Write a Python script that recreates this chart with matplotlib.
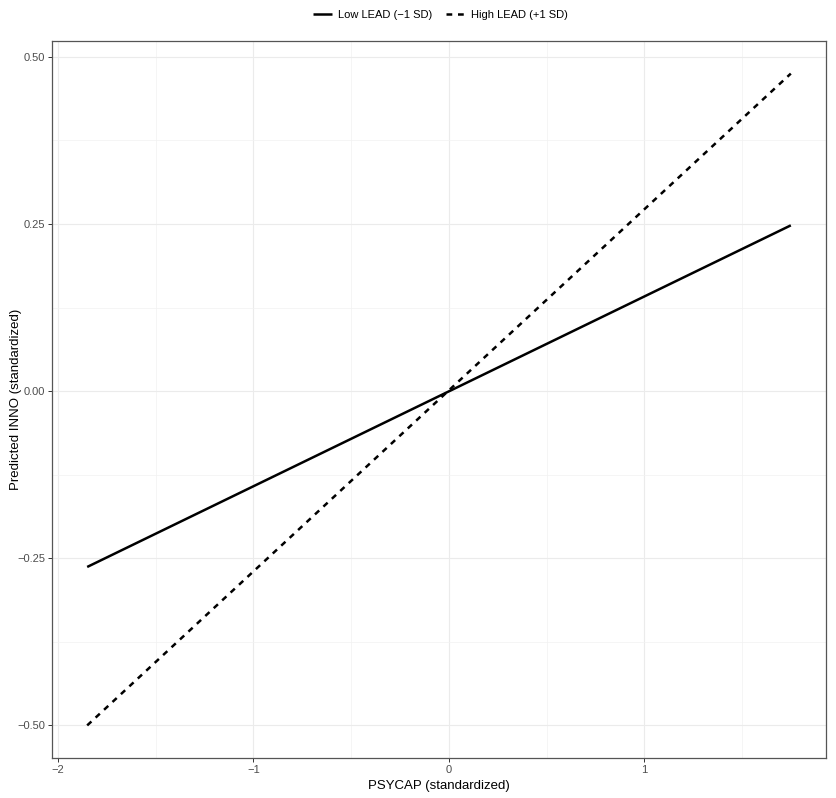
import matplotlib.pyplot as plt
import numpy as np

plt.rcParams['font.family'] = ['Liberation Sans', 'DejaVu Sans']

# simple slopes data
psycap = [-1.85, 1.75]
low_lead = [-0.263, 0.248]
high_lead = [-0.500, 0.475]
series_labels = ['Low LEAD (\u22121 SD)', 'High LEAD (+1 SD)']

xticks = [-2, -1, 0, 1]
xtick_labels = ['\u22122', '\u22121', '0', '1']
yticks = [-0.50, -0.25, 0.00, 0.25, 0.50]
ytick_labels = ['\u22120.50', '\u22120.25', '0.00', '0.25', '0.50']

fig = plt.figure(figsize=(8.36, 7.98), dpi=100)
ax = fig.add_axes([52 / 836, 40 / 798, 774 / 836, 717 / 798])

ax.plot(psycap, low_lead, color='black', lw=1.8, solid_capstyle='butt',
        label=series_labels[0], zorder=3)
ax.plot(psycap, high_lead, color='black', lw=1.8, dashes=(2.3, 2.3),
        label=series_labels[1], zorder=3)

# ggplot-like 5% expansion
xr = psycap[1] - psycap[0]
ymin = min(low_lead + high_lead)
ymax = max(low_lead + high_lead)
yr = ymax - ymin
ax.set_xlim(psycap[0] - 0.05 * xr, psycap[1] + 0.05 * xr)
ax.set_ylim(ymin - 0.05 * yr, ymax + 0.05 * yr)

ax.set_xticks(xticks)
ax.set_xticklabels(xtick_labels)
ax.set_yticks(yticks)
ax.set_yticklabels(ytick_labels)
ax.set_xticks([-1.5, -0.5, 0.5, 1.5], minor=True)
ax.set_yticks([-0.375, -0.125, 0.125, 0.375], minor=True)

ax.grid(which='major', color='#EBEBEB', lw=0.8)
ax.grid(which='minor', color='#F2F2F2', lw=0.5)
ax.set_axisbelow(True)
ax.tick_params(which='minor', length=0)
ax.tick_params(which='major', length=3, color='#333333', width=0.7,
               labelsize=8, labelcolor='#4D4D4D', pad=2)
for s in ax.spines.values():
    s.set_color('#555555')
    s.set_linewidth(0.9)

ax.set_xlabel('PSYCAP (standardized)', fontsize=9.5)
ax.set_ylabel('Predicted INNO (standardized)', fontsize=9.5)
ax.xaxis.set_label_coords(0.5, -0.031)
ax.yaxis.set_label_coords(-0.039, 0.5)

fig.legend(loc='upper center', bbox_to_anchor=(0.527, 1.0), ncol=2,
           frameon=False, fontsize=8, handlelength=1.7, columnspacing=1.2,
           handletextpad=0.6)

fig.savefig('out.png', dpi=100)
